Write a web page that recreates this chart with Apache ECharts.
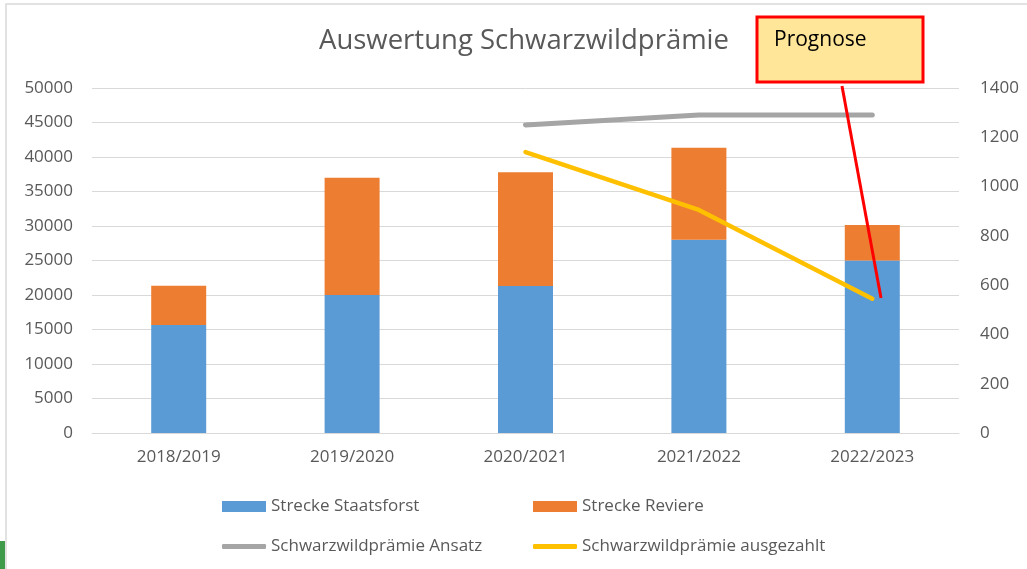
<!DOCTYPE html>
<html>
<head>
<meta charset="utf-8">
<script src="https://cdn.jsdelivr.net/npm/echarts@6/dist/echarts.min.js"></script>
<style>
  html, body { margin: 0; padding: 0; background: #fff; }
  #chart { width: 1027px; height: 569px; }
</style>
</head>
<body>
<div id="chart"></div>
<script>
// Daten
var seasons = ['2018/2019', '2019/2020', '2020/2021', '2021/2022', '2022/2023'];
var streckeStaatsforst = [15650, 20000, 21300, 28000, 25000];
var streckeReviere = [5700, 17000, 16500, 13350, 5150];
var praemieAnsatz = [null, null, 1250, 1290, 1290];
var praemieAusgezahlt = [null, null, 1140, 905, 545];

var chart = echarts.init(document.getElementById('chart'));
var font = 'Open Sans';
var grey = '#595959';

function plain(v) { return String(v); }

var option = {
  backgroundColor: '#fff',
  animation: false,
  textStyle: { fontFamily: font },
  title: {
    text: 'Auswertung Schwarzwildprämie',
    left: 314,
    top: 22,
    textStyle: { fontFamily: font, fontSize: 27.5, fontWeight: 'normal', color: grey }
  },
  legend: [
    { data: ['Strecke Staatsforst'], left: 217, top: 493, icon: 'rect', itemWidth: 44, itemHeight: 11,
      textStyle: { fontFamily: font, fontSize: 17, color: grey } },
    { data: ['Strecke Reviere'], left: 528, top: 493, icon: 'rect', itemWidth: 44, itemHeight: 11,
      textStyle: { fontFamily: font, fontSize: 17, color: grey } },
    { data: ['Schwarzwildprämie Ansatz'], left: 217, top: 533, icon: 'roundRect', itemWidth: 44, itemHeight: 5,
      textStyle: { fontFamily: font, fontSize: 17, color: grey } },
    { data: ['Schwarzwildprämie ausgezahlt'], left: 528, top: 533, icon: 'roundRect', itemWidth: 44, itemHeight: 5,
      textStyle: { fontFamily: font, fontSize: 17, color: grey } }
  ],
  grid: { left: 92, right: 68, top: 88, bottom: 136 },
  xAxis: {
    type: 'category',
    data: seasons,
    axisLine: { lineStyle: { color: '#d9d9d9' } },
    axisTick: { show: false },
    axisLabel: { color: grey, fontSize: 17, margin: 16 }
  },
  yAxis: [
    {
      type: 'value', min: 0, max: 50000, interval: 5000,
      axisLine: { show: false }, axisTick: { show: false },
      axisLabel: { color: grey, fontSize: 17, margin: 19, formatter: plain },
      splitLine: { lineStyle: { color: '#d9d9d9' } }
    },
    {
      type: 'value', min: 0, max: 1400, interval: 200,
      axisLine: { show: false }, axisTick: { show: false },
      axisLabel: { color: grey, fontSize: 17, margin: 21, formatter: plain },
      splitLine: { show: false }
    }
  ],
  series: [
    { name: 'Strecke Staatsforst', type: 'bar', stack: 'strecke', barWidth: 55,
      itemStyle: { color: '#5b9bd5' }, data: streckeStaatsforst },
    { name: 'Strecke Reviere', type: 'bar', stack: 'strecke', barWidth: 55,
      itemStyle: { color: '#ed7d31' }, data: streckeReviere },
    { name: 'Schwarzwildprämie Ansatz', type: 'line', yAxisIndex: 1, symbol: 'none',
      itemStyle: { color: '#a5a5a5' },
      lineStyle: { color: '#a5a5a5', width: 5, cap: 'round' }, data: praemieAnsatz },
    { name: 'Schwarzwildprämie ausgezahlt', type: 'line', yAxisIndex: 1, symbol: 'none',
      itemStyle: { color: '#ffc000' },
      lineStyle: { color: '#ffc000', width: 4.5, cap: 'round' }, data: praemieAusgezahlt }
  ],
  graphic: [
    // Rahmen
    { type: 'rect', shape: { x: 6, y: 4, width: 1040, height: 600 }, silent: true,
      style: { fill: 'none', stroke: '#d9d9d9', lineWidth: 1.5 }, z: -1 },
    { type: 'rect', shape: { x: 0, y: 541, width: 5, height: 30 },
      style: { fill: '#3f9b4a' } },
    // Prognose-Hinweis
    { type: 'rect', shape: { x: 757, y: 17, width: 166, height: 65 }, z: 100,
      style: { fill: '#ffe699', stroke: '#ff0000', lineWidth: 3 } },
    { type: 'text', left: 774, top: 30, z: 101,
      style: { text: 'Prognose', fontFamily: font, fontSize: 21, fill: '#000' } },
    { type: 'line', shape: { x1: 842, y1: 86, x2: 881, y2: 298 }, z: 100,
      style: { stroke: '#ff0000', lineWidth: 3 } }
  ]
};

chart.setOption(option);
</script>
</body>
</html>
